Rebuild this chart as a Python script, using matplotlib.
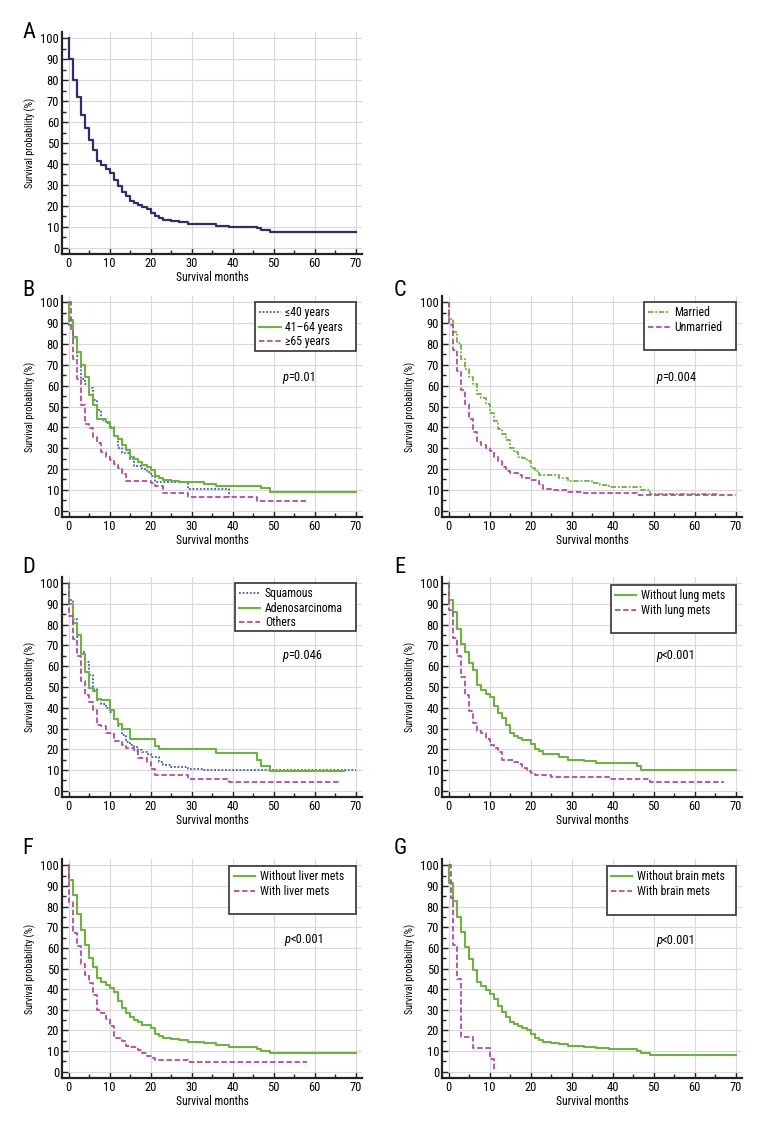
import matplotlib
matplotlib.use('Agg')
import matplotlib.pyplot as plt
from matplotlib import font_manager
from matplotlib.lines import Line2D
from matplotlib.patches import Rectangle
from matplotlib.ticker import MultipleLocator

# pick a narrow font if one is installed
names = {f.name for f in font_manager.fontManager.ttflist}
narrow = None
for cand in ('Liberation Sans Narrow', 'Roboto Condensed', 'Open Sans Condensed'):
    if cand in names:
        narrow = cand
        break
plt.rcParams['font.family'] = [narrow or 'DejaVu Sans', 'DejaVu Sans']

# ---- data (survival %, step drops at given months) ----
a_time = [0, 0, 1, 2, 3, 4, 5, 6, 7, 8, 9, 10, 11, 12, 13, 14, 15, 16, 17, 18, 19, 20, 21, 22, 23,
          25, 27, 28, 29, 33, 36, 39, 46, 47, 49, 70]
a_surv = [100, 90, 80, 72, 63.5, 57.3, 51.5, 46.8, 41.2, 39.5, 37.6, 35.5, 32.3, 29.6, 26.8, 24.6,
          22.3, 21.3, 20.4, 19.4, 18.4, 16.8, 15, 14.2, 13.1, 12.8, 12.5, 12.2, 11.5, 11.1, 10.6,
          10.1, 9.2, 8.3, 7.5, 7.5]

b_young_time = [0, 0, 1, 2, 3, 4, 5, 6, 7, 8, 9, 10, 11, 12, 13, 15, 16, 18, 19, 20, 21, 29, 39, 39]
b_young_surv = [100, 89, 83, 74, 63, 61, 59, 53, 48.5, 43.5, 42, 40.3, 36, 30, 27.5, 24.8, 21.6,
                20, 18.4, 16.5, 14, 10.3, 6.5, 6.5]
b_mid_time = [0, 0, 1, 2, 3, 4, 5, 6, 7, 9, 10, 11, 12, 13, 14, 15, 16, 17, 18, 19, 20, 21, 22, 23,
              25, 27, 29, 33, 36, 47, 49, 70]
b_mid_surv = [100, 91.3, 83.2, 76, 70, 64.3, 55.5, 50.7, 43.8, 42.4, 39.5, 36, 34.4, 31.5, 29, 25.9,
              24.6, 23.4, 22, 21, 19.5, 16.5, 15.5, 14.8, 14.4, 14, 13.8, 12.7, 11.8, 10.7, 9.2, 9.2]
b_old_time = [0, 0.5, 1, 2, 3, 4, 5, 6, 7, 8, 9, 10, 11, 12, 13, 14, 20, 21, 23, 29, 46, 58]
b_old_surv = [100, 86.7, 73, 63.4, 50.7, 41.6, 39.5, 35.5, 32.3, 28.3, 25.6, 24.3, 22.2, 20.3, 17.6,
              14.2, 13.1, 12, 8.3, 6.7, 4.8, 4.8]

c_mar_time = [0, 0, 1, 2, 3, 4, 5, 6, 7, 8, 9, 10, 11, 12, 13, 14, 15, 16, 17, 18, 19, 20, 21, 22,
              27, 29, 35, 37, 39, 47, 49, 66]
c_mar_surv = [100, 92, 85.5, 80.4, 73, 68, 64, 61, 56, 54, 51, 47, 43, 39, 37, 34, 30, 28, 26, 25.5,
              24, 20.5, 19, 17, 15.5, 14.5, 13.5, 12.5, 11.5, 10, 8, 8]
c_unm_time = [0, 0, 1, 2, 3, 4, 5, 6, 7, 8, 9, 10, 11, 12, 13, 14, 15, 17, 18, 20, 22, 23, 25, 29,
              33, 46, 70]
c_unm_surv = [100, 89, 77, 67, 58, 51, 44, 38, 33, 31.5, 30, 28.5, 26, 24, 21, 19, 18, 17, 15.5,
              14.8, 13, 10.5, 10, 9.2, 8.5, 7.5, 7.5]

d_sq_time = [0, 0, 1, 2, 3, 4, 5, 6, 7, 8, 9, 10, 11, 12, 13, 14, 15, 16, 17, 18, 19, 20, 22, 23,
             25, 29, 33, 70]
d_sq_surv = [100, 92, 83, 74, 67, 62, 56, 49, 43.5, 42, 40, 38, 34.5, 31, 27, 23.5, 22, 21, 19.5,
             18.5, 17.5, 16.5, 14, 12.5, 11.5, 10.5, 9.8, 9.8]
d_ad_time = [0, 0, 1, 2, 3, 4, 5, 6, 7, 8, 10, 11, 12, 13, 15, 21, 22, 36, 46, 47, 49, 67]
d_ad_surv = [100, 90, 81, 75, 66, 57, 49.5, 48, 44, 43.5, 39, 34.5, 32, 30, 25, 21.5, 20, 18, 15,
             12, 9.3, 9.3]
d_oth_time = [0, 0, 1, 2, 3, 4, 5, 6, 7, 8, 9, 11, 13, 14, 16, 17, 19, 20, 21, 29, 39, 66]
d_oth_surv = [100, 84, 73, 65, 53, 46, 43, 39, 31.5, 31, 28, 24, 22, 20.5, 19, 16, 14, 10.5, 7.5,
              5.8, 4.2, 4.2]

e_wo_time = [0, 0, 1, 2, 3, 4, 5, 6, 7, 8, 9, 10, 11, 12, 13, 14, 15, 16, 17, 18, 20, 21, 22, 23,
             27, 29, 33, 36, 46, 47, 70]
e_wo_surv = [100, 92, 86, 78, 70.5, 67, 61.5, 58, 51, 48.5, 46.5, 45, 41, 37.5, 35, 31.5, 28, 26.5,
             25.5, 24.5, 22.5, 20, 19, 17.5, 16.5, 15, 14.5, 13.5, 12, 10, 10]
e_w_time = [0, 0, 1, 2, 3, 4, 5, 6, 7, 8, 9, 10, 11, 12, 13, 16, 17, 18, 19, 20, 21, 25, 39, 49, 67]
e_w_surv = [100, 87, 73.5, 65, 55, 46, 38.5, 32.5, 29, 28, 25, 22, 20.5, 18.5, 15, 14, 13, 11, 9.5,
            8.5, 7.5, 6.8, 5.5, 4.2, 4.2]

f_wo_time = [0, 0, 1, 2, 3, 4, 5, 6, 7, 8, 9, 10, 11, 12, 13, 14, 15, 16, 17, 18, 20, 21, 22, 23,
             25, 27, 29, 33, 36, 39, 46, 47, 49, 70]
f_wo_surv = [100, 93, 85.5, 76.5, 68.5, 61.5, 55, 50.5, 45.5, 43.5, 42, 40.5, 38.5, 34.5, 31, 28.5,
             26.5, 25, 24, 22.5, 21, 18.5, 17.5, 16.5, 15.8, 15.2, 14.5, 14, 13, 12.2, 11, 10, 9,
             9]
f_w_time = [0, 0, 1, 2, 3, 4, 5, 6, 7, 8, 9, 10, 11, 13, 14, 15, 17, 18, 19, 20, 21, 29, 58]
f_w_surv = [100, 82, 67, 61, 52, 47, 43, 37, 30, 28.5, 25.5, 22, 16.5, 15, 12.5, 12, 10.5, 9, 7.5,
            6.5, 5.9, 4.8, 4.8]

g_wo_time = [0, 0, 1, 2, 3, 4, 5, 6, 7, 8, 9, 10, 11, 12, 13, 14, 15, 16, 17, 18, 19, 20, 21, 22,
             23, 25, 27, 29, 33, 36, 39, 46, 47, 49, 70]
g_wo_surv = [100, 91.5, 82.5, 75, 67.5, 60.5, 54.5, 49.5, 43.5, 41.5, 39.5, 37.5, 35, 32, 29, 26.5,
             24, 23, 22, 21, 20, 18.5, 16.5, 15.5, 14.5, 14, 13.5, 12.5, 12, 11.5, 11, 10, 9, 8, 8]
g_w_time = [0, 0.5, 1, 2, 3, 6, 10, 11, 11]
g_w_surv = [100, 84, 61.5, 45, 17, 11.5, 6, 0.5, 0.5]

p_values = {'B': '=0.01', 'C': '=0.004', 'D': '=0.046', 'E': '<0.001', 'F': '<0.001', 'G': '<0.001'}

# ---- styles ----
NAVY = '#2d2f6b'
BLUE = '#3b5cc4'
GREEN = '#6cb43c'
MAG = '#b54aa0'
sty_blue = dict(color=BLUE, lw=1.3, ls=(0, (1, 1)))
sty_green = dict(color=GREEN, lw=1.5, ls='-')
sty_mag = dict(color=MAG, lw=1.3, ls=(0, (3, 1.5)))
sty_mar = dict(color=GREEN, lw=1.3, ls=(0, (3, 1, 1, 1)))

W, H = 780, 1137
fig = plt.figure(figsize=(W / 100, H / 100), dpi=100)


def make_ax(left_px, top_px, bottom_px, width_px=300):
    ax = fig.add_axes([left_px / W, 1 - bottom_px / H, width_px / W, (bottom_px - top_px) / H])
    ax.set_xlim(-1.6, 71.5)
    ax.set_ylim(-3, 103)
    ax.xaxis.set_major_locator(MultipleLocator(10))
    ax.xaxis.set_minor_locator(MultipleLocator(5))
    ax.yaxis.set_major_locator(MultipleLocator(10))
    ax.yaxis.set_minor_locator(MultipleLocator(5))
    ax.grid(True, which='major', color='#d9d9d9', lw=0.8)
    ax.set_axisbelow(True)
    for s in ['top', 'right']:
        ax.spines[s].set_visible(False)
    for s in ['left', 'bottom']:
        ax.spines[s].set_linewidth(1.6)
        ax.spines[s].set_color('#222222')
    ax.tick_params(which='both', direction='in', color='#222222', labelsize=9, pad=2)
    ax.tick_params(which='major', length=4, width=1)
    ax.tick_params(which='minor', length=3, width=1)
    ax.set_xlabel('Survival months', fontsize=8.3, labelpad=1)
    ax.set_ylabel('Survival probability (%)', fontsize=7.2, labelpad=3)
    return ax


def add_letter(x_px, y_px, letter):
    fig.text(x_px / W, 1 - y_px / H, letter, fontsize=16, ha='left', va='center')


def add_p(ax, x, y, txt):
    pt = ax.text(x, y, 'p', fontsize=9, style='italic', ha='left', va='baseline')
    ax.annotate(txt, xy=(1, 0), xycoords=pt, fontsize=9, ha='left', va='bottom')


def add_legend(ax, x0, y_top, y_bot, handles, labels):
    ax.add_patch(Rectangle((x0, y_bot), 70 - x0, y_top - y_bot, fill=True, fc='white',
                           ec='#333333', lw=1.2, zorder=4))
    ax.legend(handles, labels, loc='upper left', bbox_to_anchor=(x0, y_top),
              bbox_transform=ax.transData, frameon=False, fontsize=8.5, handlelength=1.8,
              handletextpad=0.4, labelspacing=0.12, borderpad=0.35, borderaxespad=0)


# A
ax = make_ax(62, 32, 254)
ax.step(a_time, a_surv, where='post', color=NAVY, lw=1.6)
add_letter(22, 33, 'A')

# B
ax = make_ax(62, 296, 517)
ax.step(b_young_time, b_young_surv, where='post', **sty_blue)
ax.step(b_mid_time, b_mid_surv, where='post', **sty_green)
ax.step(b_old_time, b_old_surv, where='post', **sty_mag)
add_legend(ax, 45.5, 100, 76.8, [Line2D([], [], **sty_blue), Line2D([], [], **sty_green),
                                 Line2D([], [], **sty_mag)],
           ['\u226440 years', '41\u201364 years', '\u226565 years'])
add_p(ax, 52, 62, p_values['B'])
add_letter(22, 290, 'B')

# C
ax = make_ax(442, 296, 517)
ax.step(c_mar_time, c_mar_surv, where='post', **sty_mar)
ax.step(c_unm_time, c_unm_surv, where='post', **sty_mag)
add_legend(ax, 47.7, 100, 77, [Line2D([], [], **sty_mar), Line2D([], [], **sty_mag)],
           ['Married', 'Unmarried'])
add_p(ax, 50.5, 62, p_values['C'])
add_letter(394, 290, 'C')

# D
ax = make_ax(62, 577, 797)
ax.step(d_sq_time, d_sq_surv, where='post', **sty_blue)
ax.step(d_ad_time, d_ad_surv, where='post', **sty_green)
ax.step(d_oth_time, d_oth_surv, where='post', **sty_mag)
add_legend(ax, 40.5, 100, 77, [Line2D([], [], **sty_blue), Line2D([], [], **sty_green),
                               Line2D([], [], **sty_mag)],
           ['Squamous', 'Adenosarcinoma', 'Others'])
add_p(ax, 52, 63.5, p_values['D'])
add_letter(22, 568, 'D')

# E
ax = make_ax(442, 577, 797)
ax.step(e_wo_time, e_wo_surv, where='post', **sty_green)
ax.step(e_w_time, e_w_surv, where='post', **sty_mag)
add_legend(ax, 39.6, 99, 76, [Line2D([], [], **sty_green), Line2D([], [], **sty_mag)],
           ['Without lung mets', 'With lung mets'])
add_p(ax, 50.5, 63.5, p_values['E'])
add_letter(394, 568, 'E')

# F
ax = make_ax(62, 859, 1078)
ax.step(f_wo_time, f_wo_surv, where='post', **sty_green)
ax.step(f_w_time, f_w_surv, where='post', **sty_mag)
add_legend(ax, 39.2, 99.5, 76.5, [Line2D([], [], **sty_green), Line2D([], [], **sty_mag)],
           ['Without liver mets', 'With liver mets'])
add_p(ax, 52.5, 62.5, p_values['F'])
add_letter(22, 848, 'F')

# G
ax = make_ax(442, 859, 1078)
ax.step(g_wo_time, g_wo_surv, where='post', **sty_green)
ax.step(g_w_time, g_w_surv, where='post', **sty_mag)
add_legend(ax, 38.6, 99.5, 76, [Line2D([], [], **sty_green), Line2D([], [], **sty_mag)],
           ['Without brain mets', 'With brain mets'])
add_p(ax, 50.5, 62, p_values['G'])
add_letter(394, 848, 'G')

fig.savefig('out.png', dpi=100)
